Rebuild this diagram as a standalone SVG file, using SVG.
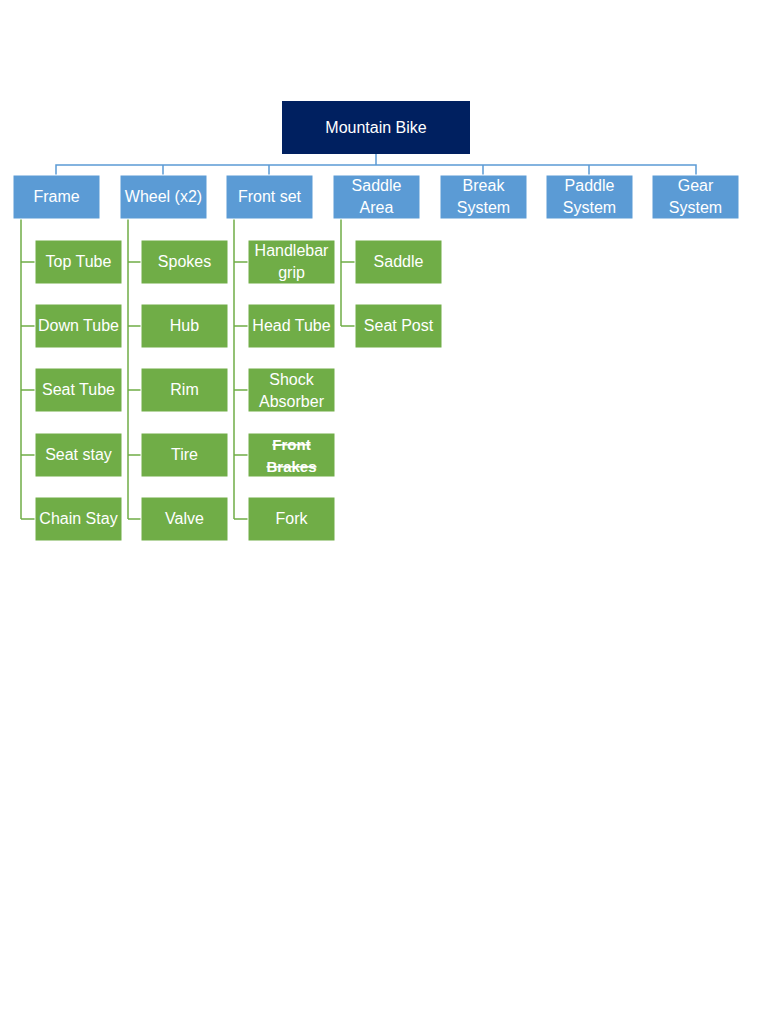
<svg xmlns="http://www.w3.org/2000/svg" width="768" height="1024" viewBox="0 0 768 1024">
<style>
.root{fill:#002060;}
.l1{fill:#5b9bd5;stroke:#ffffff;stroke-width:1;}
.l2{fill:#70ad47;stroke:#ffffff;stroke-width:1;}
text{font-family:"Liberation Sans",Arial,sans-serif;font-size:16px;fill:#ffffff;text-anchor:middle;dominant-baseline:central;}
.bc{stroke:#5b9bd5;stroke-width:1.5;fill:none;}
.gc{stroke:#70ad47;stroke-width:1.5;fill:none;}
.strike{text-decoration:line-through;font-weight:bold;font-size:15px;}
</style>
<rect width="768" height="1024" fill="#ffffff"/>
<g id="connectors">
<path class="bc" d="M376,154 V165 M56,175 V165 H696 V175 M163,165 V175 M269,165 V175 M483,165 V175 M589,165 V175"/>
<path class="gc" d="M21,219 V519 M21,262 H35 M21,326 H35 M21,390 H35 M21,455 H35 M21,519 H35"/>
<path class="gc" d="M128,219 V519 M128,262 H141 M128,326 H141 M128,390 H141 M128,455 H141 M128,519 H141"/>
<path class="gc" d="M234,219 V519 M234,262 H248 M234,326 H248 M234,390 H248 M234,455 H248 M234,519 H248"/>
<path class="gc" d="M341,219 V326 M341,262 H355 M341,326 H355"/>
</g>
<g id="mountain-bike"><rect class="root" x="282" y="101" width="188" height="53"/><text x="376" y="127">Mountain Bike</text></g>
<g id="frame"><rect class="l1" x="13" y="175" width="87" height="44"/><text x="56.5" y="196">Frame</text></g>
<g id="wheel"><rect class="l1" x="120" y="175" width="87" height="44"/><text x="163.5" y="196">Wheel (x2)</text></g>
<g id="front-set"><rect class="l1" x="226" y="175" width="87" height="44"/><text x="269.5" y="196">Front set</text></g>
<g id="saddle-area"><rect class="l1" x="333" y="175" width="87" height="44"/><text x="376.5" y="185">Saddle</text><text x="376.5" y="207">Area</text></g>
<g id="break-system"><rect class="l1" x="440" y="175" width="87" height="44"/><text x="483.5" y="185">Break</text><text x="483.5" y="207">System</text></g>
<g id="paddle-system"><rect class="l1" x="546" y="175" width="87" height="44"/><text x="589.5" y="185">Paddle</text><text x="589.5" y="207">System</text></g>
<g id="gear-system"><rect class="l1" x="652" y="175" width="87" height="44"/><text x="695.5" y="185">Gear</text><text x="695.5" y="207">System</text></g>

<g id="top-tube"><rect class="l2" x="35" y="240" width="87" height="44"/><text x="78.5" y="261">Top Tube</text></g>
<g id="down-tube"><rect class="l2" x="35" y="304" width="87" height="44"/><text x="78.5" y="325">Down Tube</text></g>
<g id="seat-tube"><rect class="l2" x="35" y="368" width="87" height="44"/><text x="78.5" y="389">Seat Tube</text></g>
<g id="seat-stay"><rect class="l2" x="35" y="433" width="87" height="44"/><text x="78.5" y="454">Seat stay</text></g>
<g id="chain-stay"><rect class="l2" x="35" y="497" width="87" height="44"/><text x="78.5" y="518">Chain Stay</text></g>

<g id="spokes"><rect class="l2" x="141" y="240" width="87" height="44"/><text x="184.5" y="261">Spokes</text></g>
<g id="hub"><rect class="l2" x="141" y="304" width="87" height="44"/><text x="184.5" y="325">Hub</text></g>
<g id="rim"><rect class="l2" x="141" y="368" width="87" height="44"/><text x="184.5" y="389">Rim</text></g>
<g id="tire"><rect class="l2" x="141" y="433" width="87" height="44"/><text x="184.5" y="454">Tire</text></g>
<g id="valve"><rect class="l2" x="141" y="497" width="87" height="44"/><text x="184.5" y="518">Valve</text></g>

<g id="handlebar-grip"><rect class="l2" x="248" y="240" width="87" height="44"/><text x="291.5" y="250">Handlebar</text><text x="291.5" y="272">grip</text></g>
<g id="head-tube"><rect class="l2" x="248" y="304" width="87" height="44"/><text x="291.5" y="325">Head Tube</text></g>
<g id="shock-absorber"><rect class="l2" x="248" y="368" width="87" height="44"/><text x="291.5" y="379">Shock</text><text x="291.5" y="401">Absorber</text></g>
<g id="front-brakes"><rect class="l2" x="248" y="433" width="87" height="44"/><text class="strike" x="291.5" y="444">Front</text><text class="strike" x="291.5" y="466">Brakes</text></g>
<g id="fork"><rect class="l2" x="248" y="497" width="87" height="44"/><text x="291.5" y="518">Fork</text></g>

<g id="saddle"><rect class="l2" x="355" y="240" width="87" height="44"/><text x="398.5" y="261">Saddle</text></g>
<g id="seat-post"><rect class="l2" x="355" y="304" width="87" height="44"/><text x="398.5" y="325">Seat Post</text></g>
</svg>
